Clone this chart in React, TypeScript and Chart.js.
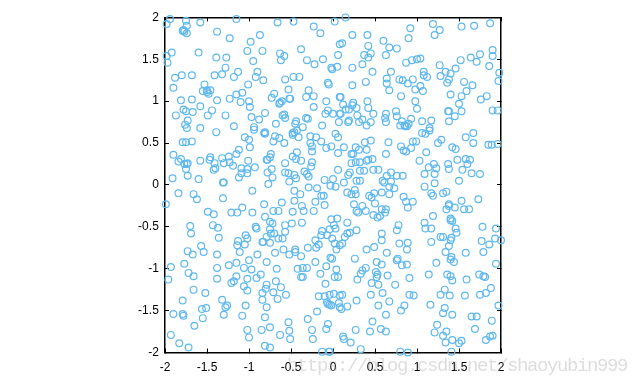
import React, { useEffect, useRef } from "react";
import { Chart, registerables } from "chart.js";

Chart.register(...registerables);

const tickValues = [-2, -1.5, -1, -0.5, 0, 0.5, 1, 1.5, 2];
const tickLabels = ["-2", "-1.5", "-1", "-0.5", "0", "0.5", "1", "1.5", "2"];
const watermark = "https://blog.csdn.net/shaoyubin999";

const upperLeft: number[][] = [
[-1.98,1.92],[-1.94,1.98],[-1.75,1.96],[-1.58,1.94],[-1.15,1.98],[-0.66,1.94],[-0.47,1.95],[0.02,1.95],[-1.74,1.90],[-0.23,1.89],
[-1.78,1.85],[-1.79,1.84],[-1.77,1.83],[-1.74,1.81],[-1.38,1.83],[-0.15,1.81],[-1.23,1.75],[-0.87,1.79],[-0.98,1.71],[-1.92,1.58],
[-1.60,1.58],[-1.02,1.60],[-0.84,1.60],[-0.38,1.62],[-0.63,1.57],[-0.58,1.54],[-1.98,1.54],[-1.39,1.52],[-1.27,1.52],[-1.97,1.46],
[-0.95,1.48],[-0.62,1.49],[-0.31,1.49],[-0.12,1.50],[-0.22,1.44],[0.06,1.55],[0.08,1.68],[-1.28,1.40],[-0.02,1.40],[-0.01,1.38],
[0.05,1.41],[-1.13,1.35],[-0.90,1.35],[-1.41,1.31],[-1.32,1.32],[-1.18,1.29],[-1.80,1.31],[-1.68,1.31],[-1.88,1.28],[-0.92,1.29],
[-0.57,1.26],[-0.47,1.29],[-0.40,1.29],[-0.83,1.25],[-0.06,1.22],[-0.05,1.20],[-1.53,1.20],[-1.01,1.20],[-1.90,1.16],[-0.53,1.14],
[-1.55,1.12],[-1.50,1.13],[-1.46,1.13],[-1.50,1.11],[-1.48,1.09],[-1.15,1.08],[-1.08,1.10],[-0.29,1.13],[-0.70,1.09],[-0.32,1.05],
[-0.23,1.06],[0.08,1.05],[-1.23,1.03],[-0.73,1.04],[-0.52,1.03],[-0.51,1.03],[-1.68,1.02],[-1.81,1.01],[-1.38,1.01],[-1.10,0.99],
[-1.00,1.00],[-0.61,1.00],[-0.63,0.98],[-0.64,0.97],[-0.08,1.00],[-0.99,0.93],[-1.58,0.94],[-0.23,0.93],[-1.78,0.90],[-1.75,0.88],
[-1.44,0.89],[-0.06,0.89],[-1.67,0.87],[-1.87,0.83],[-1.49,0.83],[-1.28,0.83],[-0.81,0.86],[-0.09,0.85],[0.00,0.85],[0.08,0.85],
[-0.97,0.81],[-0.60,0.83],[-0.58,0.84],[-0.57,0.80],[-0.88,0.78],[-0.32,0.80],[-0.30,0.79],[-1.73,0.77],[-0.44,0.76],[0.07,0.75],
[-1.76,0.72],[-0.68,0.73],[-0.45,0.73],[-0.13,0.71],[-1.74,0.68],[-1.58,0.68],[-1.18,0.70],[-0.36,0.69],[-0.94,0.69],[-0.94,0.66],
[-0.43,0.65],[-1.39,0.63],[-0.81,0.63],[-0.82,0.62],[-0.81,0.61],[-0.46,0.63],[-0.48,0.62],[-0.48,0.60],[0.03,0.61],[-0.27,0.58],
[-0.69,0.58],[-1.05,0.57],[-0.64,0.56],[-0.41,0.57],[-0.20,0.57],[0.06,0.57],[-1.00,0.54],[-0.71,0.52],[-0.14,0.52],[-1.68,0.52],
[-1.79,0.51],[-1.75,0.51],[-0.58,0.50],[-0.27,0.50],[-0.25,0.46],[-0.25,0.40],[-0.02,0.46],[-0.08,0.44],[-0.99,0.45],[-1.12,0.42],
[-1.15,0.37],[-0.43,0.39],[0.06,0.38],[-1.90,0.36],[-0.74,0.37],[-0.75,0.33],[-1.46,0.33],[-1.47,0.30],[-1.32,0.32],[-1.24,0.34],
[-0.48,0.34],[-0.79,0.30],[-0.78,0.30],[-0.44,0.31],[-1.81,0.31],[-1.58,0.29],[-1.01,0.29],[-0.38,0.29],[-1.84,0.28],[-1.41,0.26],
[-1.30,0.26],[-1.23,0.27],[-1.77,0.25],[-1.73,0.26],[-1.74,0.25],[-1.19,0.23],[-0.57,0.26],[-0.25,0.27],[-0.26,0.22],[-1.09,0.20],
[-0.93,0.21],[-1.02,0.19],[-1.40,0.20],[-1.42,0.18],[-1.75,0.19],[-0.73,0.19],[0.06,0.18],[-0.78,0.15],[-1.09,0.14],[-1.02,0.14],
[-0.57,0.15],[-0.53,0.14],[-0.34,0.16],[-0.31,0.13],[-0.29,0.10],[-1.73,0.11],[-0.46,0.12],[-0.44,0.08],[-1.12,0.09],[-0.72,0.09],
[-1.91,0.08],[-1.60,0.07],[-0.10,0.06],[0.00,0.07],[-1.31,0.03],[-1.30,0.03],[-0.77,0.01],[-0.52,0.04],[-0.03,-0.01],[0.03,-0.02],
[-0.29,-0.03],[-0.19,-0.04],[-0.96,-0.07],[-0.46,-0.07],[-1.84,-0.10],[-1.66,-0.11],[-0.39,-0.11],
];

const upperRight: number[][] = [
[0.15,2.00],[1.19,1.92],[1.87,1.93],[1.53,1.89],[1.68,1.90],[0.92,1.87],[1.27,1.85],[0.23,1.79],[0.41,1.79],[1.21,1.79],
[0.90,1.75],[0.60,1.72],[0.11,1.69],[0.42,1.66],[0.67,1.64],[0.76,1.63],[1.90,1.61],[0.37,1.55],[0.45,1.57],[0.42,1.52],
[0.63,1.55],[1.75,1.56],[1.64,1.52],[1.90,1.54],[1.04,1.51],[1.00,1.50],[0.94,1.49],[0.87,1.46],[1.52,1.49],[1.71,1.47],
[0.35,1.44],[1.27,1.43],[1.86,1.42],[0.23,1.40],[1.46,1.39],[0.47,1.35],[0.69,1.35],[1.08,1.35],[1.34,1.35],[1.40,1.33],
[1.98,1.34],[1.28,1.30],[1.08,1.31],[1.12,1.29],[1.38,1.26],[0.64,1.27],[0.79,1.26],[0.83,1.25],[0.95,1.26],[1.97,1.24],
[0.39,1.23],[1.36,1.22],[1.56,1.23],[0.64,1.21],[0.89,1.21],[0.23,1.19],[1.66,1.19],[1.04,1.18],[0.98,1.14],[0.67,1.13],
[1.07,1.12],[1.59,1.12],[1.40,1.08],[0.81,1.06],[1.53,1.06],[0.09,1.05],[1.83,1.06],[1.76,1.02],[0.41,1.00],[0.98,1.00],
[1.50,0.97],[0.24,0.98],[0.23,0.95],[0.12,0.96],[0.28,0.92],[0.42,0.92],[1.00,0.91],[1.90,0.89],[1.96,0.89],[0.15,0.90],
[0.19,0.90],[1.37,0.88],[1.38,0.88],[0.75,0.88],[1.53,0.88],[0.09,0.85],[0.48,0.85],[0.63,0.85],[0.62,0.80],[0.29,0.83],
[0.76,0.82],[1.45,0.82],[0.35,0.78],[0.19,0.77],[0.18,0.75],[0.31,0.75],[0.45,0.75],[0.63,0.75],[0.82,0.76],[0.93,0.79],
[1.06,0.76],[1.17,0.77],[1.38,0.76],[0.40,0.71],[0.80,0.71],[0.85,0.71],[0.88,0.70],[0.86,0.70],[0.90,0.73],[1.15,0.68],
[1.15,0.65],[1.06,0.62],[1.10,0.61],[1.67,0.62],[1.58,0.57],[1.29,0.54],[0.45,0.53],[0.38,0.51],[0.66,0.51],[0.95,0.52],
[0.99,0.52],[1.25,0.50],[1.67,0.50],[1.85,0.48],[1.89,0.48],[1.96,0.49],[0.13,0.45],[0.27,0.45],[0.81,0.46],[1.42,0.45],
[1.46,0.43],[0.31,0.42],[0.40,0.42],[0.84,0.41],[0.87,0.40],[0.93,0.44],[1.11,0.39],[0.22,0.37],[0.24,0.37],[0.63,0.37],
[0.47,0.31],[0.42,0.30],[0.40,0.29],[1.48,0.30],[1.58,0.31],[1.63,0.30],[1.03,0.29],[0.22,0.26],[0.27,0.27],[0.32,0.27],
[1.20,0.25],[1.37,0.25],[1.60,0.25],[1.14,0.21],[1.23,0.20],[1.38,0.19],[1.54,0.18],[0.32,0.17],[0.37,0.17],[0.48,0.18],
[0.54,0.18],[0.20,0.15],[0.18,0.12],[0.69,0.15],[1.09,0.13],[1.21,0.13],[1.65,0.14],[1.75,0.13],[0.64,0.11],[0.76,0.11],
[0.83,0.11],[0.28,0.05],[0.32,0.05],[0.59,0.05],[0.61,0.03],[0.69,0.04],[1.50,0.05],[0.13,0.03],[1.21,0.02],[0.67,-0.02],
[0.73,-0.04],[1.09,-0.02],[0.26,-0.06],[1.35,-0.08],[1.31,-0.10],[0.17,-0.09],[0.22,-0.11],[0.27,-0.11],[0.49,-0.10],[0.58,-0.09],
[0.67,-0.11],[0.43,-0.13],[0.84,-0.14],[1.17,-0.10],
];

const lowerLeft: number[][] = [
[-1.62,-0.17],[-1.99,-0.23],[-1.31,-0.16],[-0.46,-0.19],[-0.14,-0.13],[-0.11,-0.13],[-0.21,-0.20],[-0.61,-0.21],[-0.82,-0.23],[-1.08,-0.27],
[-0.37,-0.25],[-0.10,-0.24],[-0.71,-0.31],[-0.65,-0.31],[-0.48,-0.32],[-0.35,-0.31],[-0.23,-0.31],[-1.49,-0.32],[-1.42,-0.35],[-1.21,-0.33],
[-1.14,-0.33],[-0.96,-0.33],[-0.81,-0.38],[-0.02,-0.41],[0.05,-0.40],[-0.75,-0.44],[-0.72,-0.46],[-0.37,-0.45],[-0.49,-0.46],[-0.57,-0.48],
[-1.43,-0.48],[-1.70,-0.49],[-1.37,-0.51],[-0.92,-0.50],[-0.91,-0.52],[-0.75,-0.53],[0.01,-0.48],[-0.04,-0.53],[0.03,-0.52],[-0.13,-0.55],
[-0.57,-0.56],[-1.69,-0.58],[-0.74,-0.58],[-0.70,-0.58],[-0.14,-0.60],[-0.07,-0.60],[-1.04,-0.60],[-0.79,-0.62],[-1.02,-0.64],[-1.36,-0.63],
[-0.65,-0.64],[-0.60,-0.64],[-0.01,-0.64],[-1.13,-0.67],[-0.84,-0.68],[-0.83,-0.68],[-0.75,-0.69],[-0.21,-0.66],[0.02,-0.70],[-1.05,-0.71],
[-1.14,-0.72],[-0.17,-0.71],[-1.57,-0.73],[0.08,-0.72],[-0.20,-0.75],[-0.30,-0.75],[-0.45,-0.77],[-0.45,-0.80],[-0.59,-0.77],[-1.73,-0.79],
[-1.54,-0.80],[-1.11,-0.80],[0.04,-0.77],[-0.69,-0.81],[-0.52,-0.83],[-0.38,-0.85],[-1.67,-0.83],[-1.38,-0.83],[-0.90,-0.83],[-0.03,-0.87],
[-0.01,-0.88],[-1.00,-0.90],[-0.21,-0.92],[-0.79,-0.92],[-1.15,-0.93],[-1.77,-0.94],[-1.93,-0.98],[-1.24,-0.96],[-0.08,-0.97],[-1.06,-0.99],
[-0.67,-1.00],[-1.38,-0.99],[-0.97,-1.01],[-0.42,-1.00],[-0.36,-0.99],[-0.31,-0.99],[-1.72,-1.05],[-0.86,-1.07],[-0.15,-1.06],[-1.66,-1.09],
[-1.15,-1.09],[-0.38,-1.10],[-0.36,-1.10],[-0.91,-1.11],[0.02,-1.10],[0.06,-1.10],[-1.96,-1.13],[-1.38,-1.12],[-1.02,-1.12],[-0.68,-1.15],
[-1.21,-1.17],[-1.18,-1.15],[-0.79,-1.19],[-0.09,-1.18],[-1.06,-1.21],[-0.62,-1.22],[-0.80,-1.24],[-1.66,-1.25],[-1.02,-1.26],[-0.71,-1.28],
[-1.52,-1.29],[-0.84,-1.29],[0.01,-1.30],[-0.04,-1.31],[-0.56,-1.31],[-0.17,-1.33],[-0.10,-1.33],[0.08,-1.32],[-0.84,-1.37],[-0.66,-1.36],
[-1.32,-1.37],[-1.79,-1.38],[-0.07,-1.40],[-0.06,-1.42],[-0.04,-1.43],[-0.02,-1.44],[0.07,-1.41],[-1.04,-1.44],[-1.26,-1.44],[-1.28,-1.46],
[-0.79,-1.46],[-1.56,-1.48],[-1.51,-1.47],[0.08,-1.46],[-0.19,-1.51],[-1.90,-1.54],[-1.79,-1.54],[-1.78,-1.56],[-1.30,-1.55],[-1.08,-1.56],
[-0.81,-1.58],[-1.55,-1.59],[-0.30,-1.60],[-0.53,-1.64],[-0.06,-1.66],[-1.65,-1.68],[-0.75,-1.70],[-1.02,-1.73],[-0.85,-1.73],[-0.52,-1.74],
[-0.25,-1.73],[-0.08,-1.72],[-1.93,-1.79],[-0.63,-1.79],[-1.00,-1.82],[-0.51,-1.84],[-0.24,-1.84],[-1.83,-1.89],[-1.72,-1.94],[-0.81,-1.92],
[-0.75,-1.94],[-0.13,-1.99],[-0.05,-1.99],[-0.04,-1.99],
];

const lowerRight: number[][] = [
[0.46,-0.15],[1.19,-0.13],[0.87,-0.20],[0.95,-0.20],[0.50,-0.22],[0.25,-0.23],[0.35,-0.25],[0.89,-0.27],[1.38,-0.23],[1.38,-0.25],
[1.35,-0.29],[1.45,-0.27],[1.56,-0.29],[1.62,-0.29],[1.73,-0.17],[1.53,-0.19],[0.58,-0.29],[0.63,-0.29],[0.62,-0.33],[0.28,-0.31],
[0.30,-0.33],[0.39,-0.31],[0.48,-0.36],[0.53,-0.39],[0.56,-0.37],[1.19,-0.37],[1.40,-0.40],[1.40,-0.42],[1.42,-0.43],[0.17,-0.45],
[1.09,-0.45],[0.78,-0.48],[1.78,-0.50],[1.10,-0.52],[1.17,-0.52],[0.28,-0.54],[1.46,-0.52],[1.47,-0.57],[0.76,-0.54],[1.94,-0.52],
[0.58,-0.58],[0.20,-0.57],[0.17,-0.58],[0.14,-0.62],[1.28,-0.62],[1.31,-0.62],[1.41,-0.63],[1.40,-0.66],[1.93,-0.64],[2.00,-0.66],
[0.58,-0.66],[1.77,-0.67],[1.17,-0.68],[0.79,-0.70],[0.89,-0.69],[1.86,-0.71],[1.38,-0.73],[0.49,-0.74],[0.40,-0.77],[0.88,-0.77],
[0.11,-0.70],[1.34,-0.80],[1.58,-0.81],[1.79,-0.80],[0.64,-0.81],[1.41,-0.86],[1.40,-0.89],[1.44,-0.92],[0.26,-0.88],[0.76,-0.90],
[0.77,-0.88],[0.52,-0.92],[0.58,-0.95],[0.82,-0.96],[0.88,-0.95],[1.23,-0.93],[1.94,-0.94],[0.39,-0.99],[0.35,-1.02],[0.33,-1.06],
[0.04,-1.01],[0.51,-1.04],[0.53,-1.07],[0.52,-1.10],[1.14,-1.07],[0.65,-1.08],[1.36,-1.07],[1.40,-1.09],[1.42,-1.14],[1.74,-1.07],
[1.79,-1.09],[1.81,-1.10],[0.91,-1.11],[0.29,-1.13],[1.59,-1.13],[0.46,-1.17],[0.54,-1.19],[0.74,-1.19],[1.88,-1.23],[1.33,-1.25],
[0.45,-1.31],[0.59,-1.29],[0.11,-1.31],[0.91,-1.31],[0.96,-1.32],[1.28,-1.31],[1.39,-1.32],[1.57,-1.32],[1.75,-1.31],[1.82,-1.29],
[0.28,-1.38],[0.67,-1.39],[0.17,-1.45],[0.10,-1.48],[0.54,-1.44],[0.85,-1.44],[0.81,-1.50],[1.16,-1.43],[1.97,-1.44],[1.33,-1.47],
[1.31,-1.53],[0.63,-1.55],[1.42,-1.55],[1.65,-1.57],[1.71,-1.57],[1.89,-1.62],[0.47,-1.63],[1.24,-1.67],[0.27,-1.73],[0.57,-1.72],
[0.63,-1.75],[0.44,-1.75],[1.69,-1.72],[1.35,-1.75],[1.21,-1.76],[1.31,-1.80],[0.12,-1.81],[0.13,-1.84],[1.87,-1.81],[1.90,-1.80],
[1.42,-1.85],[1.34,-1.88],[1.82,-1.85],[0.21,-1.88],[1.50,-1.89],[1.53,-1.86],[0.33,-1.96],[0.80,-1.99],[0.89,-2.00],[1.41,-1.99],
];

const points = [...upperLeft, ...upperRight, ...lowerLeft, ...lowerRight].map(([x, y]) => ({ x, y }));

const font = { family: "'Liberation Sans', Arial, sans-serif", size: 12 };

function axis(position: string, showLabels: boolean, padding: number, extra: object = {}) {
  return {
    type: "linear",
    position,
    min: -2,
    max: 2,
    border: { display: true, color: "#000", width: 1.5 },
    grid: { drawOnChartArea: false, drawTicks: true, tickLength: -4, tickColor: "#000", tickWidth: 1 },
    afterBuildTicks: (s: any) => {
      s.ticks = tickValues.map((value) => ({ value }));
    },
    ticks: {
      display: showLabels,
      color: "#000",
      font,
      maxRotation: 0,
      autoSkip: false,
      padding,
      callback: (v: number) => tickLabels[tickValues.indexOf(v)] ?? "",
    },
    ...extra,
  };
}

export default function App() {
  const ref = useRef<HTMLCanvasElement>(null);
  useEffect(() => {
    if (!ref.current) return;
    const chart = new Chart(ref.current, {
      type: "scatter",
      data: {
        datasets: [
          {
            data: points,
            clip: false,
            showLine: false,
            pointStyle: "circle",
            pointRadius: 3.4,
            pointBorderWidth: 1.2,
            pointBorderColor: "#5fb8ee",
            pointBackgroundColor: "transparent",
          },
        ],
      },
      options: {
        animation: false,
        responsive: false,
        layout: { padding: { left: 125, right: 139, top: 16.4, bottom: 0 } },
        plugins: { legend: { display: false }, tooltip: { enabled: false } },
        scales: {
          x: axis("bottom", true, 12, { afterFit: (s: any) => { s.height = 31.5; } }),
          x2: axis("top", false, 10, { afterFit: (s: any) => { s.height = 0; } }),
          y: axis("left", true, 10.2, { afterFit: (s: any) => { s.width = 40; } }),
          y2: axis("right", false, 10, { afterFit: (s: any) => { s.width = 0; } }),
        },
      } as any,
    });
    return () => chart.destroy();
  }, []);
  return (
    <div style={{ position: "fixed", left: 0, top: 0, width: 640, height: 384, background: "#fff", overflow: "hidden" }}>
      <canvas ref={ref} width={640} height={384} style={{ display: "block", width: 640, height: 384 }} />
      <div
        style={{
          position: "absolute",
          left: 287,
          top: 356,
          fontFamily: "'Liberation Mono', monospace",
          fontSize: 19,
          letterSpacing: -1.4,
          lineHeight: "20px",
          color: "rgba(150,150,150,0.32)",
          whiteSpace: "nowrap",
        }}
      >
        {watermark}
      </div>
    </div>
  );
}
